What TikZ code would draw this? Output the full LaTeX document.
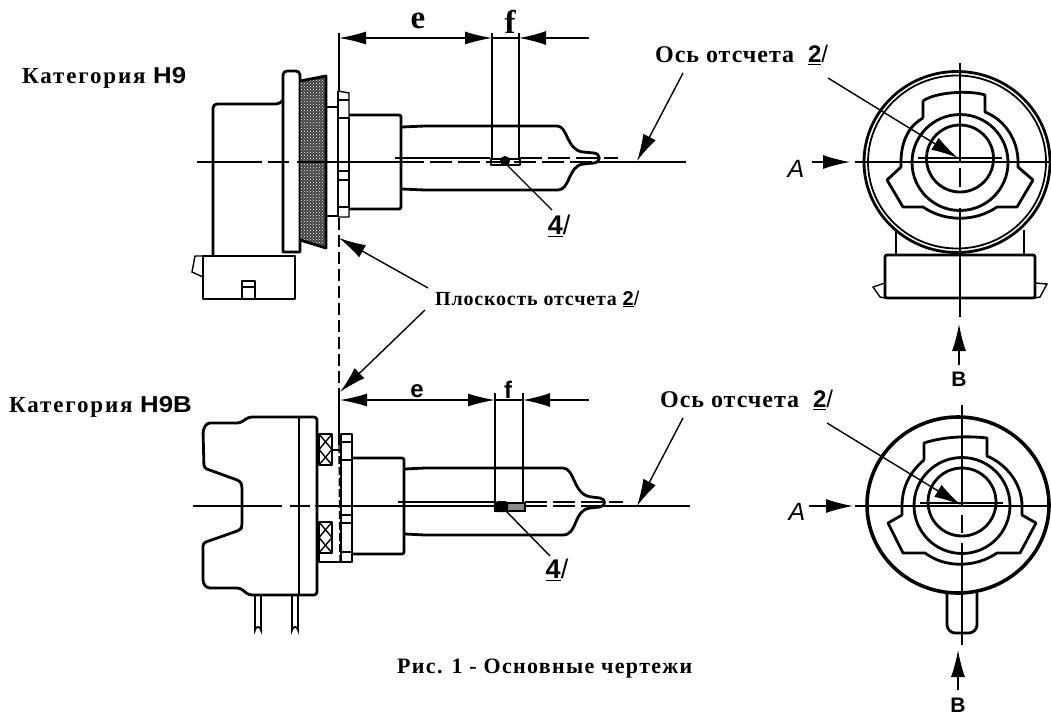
\documentclass[tikz,border=0pt]{standalone}
\usepackage{fontspec}
\setmainfont{Liberation Serif}
\setsansfont{Liberation Sans}
\newfontfamily\widesans[FakeStretch=1.12]{Liberation Sans}
\usepackage{tikz}
\usetikzlibrary{arrows.meta, patterns}

\tikzset{
  thick line/.style={line width=2.8pt, line join=round},
  thin line/.style={line width=1.4pt},
  pin line/.style={line width=1.9pt},
  dim line/.style={line width=1.4pt, {Latex[length=27pt,width=13pt]}-{Latex[length=27pt,width=13pt]}},
  one head/.style={line width=1.4pt, -{Latex[length=27pt,width=14pt]}},
  cap text/.style={font=\fontsize{23}{26}\selectfont\bfseries, anchor=west, inner sep=0pt},
  dim text/.style={font=\fontsize{33}{36}\selectfont\bfseries, inner sep=0pt},
  sans text/.style={font=\fontsize{24}{26}\selectfont\sffamily\bfseries, inner sep=0pt},
  ref text/.style={font=\fontsize{27}{30}\selectfont\sffamily\bfseries, inner sep=0pt},
  view text/.style={font=\fontsize{25}{27}\selectfont\sffamily\itshape, inner sep=0pt},
  back text/.style={font=\fontsize{21}{23}\selectfont\sffamily\bfseries, inner sep=0pt}
}

\begin{document}
\begin{tikzpicture}[x=1pt, y=-1pt]
  \useasboundingbox (0,0) rectangle (1051,715);
  \fill[white] (0,0) rectangle (1051,715);

% labels
\node[cap text] (catA) at (22,78) {\addfontfeature{LetterSpace=8}Категория {\widesans\fontsize{23}{26}\selectfont\bfseries H9}};
\node[cap text] (catB) at (9,407) {\addfontfeature{LetterSpace=8}Категория {\widesans\fontsize{23}{26}\selectfont\bfseries H9B}};
\node[cap text, font=\fontsize{24}{26}\selectfont\bfseries] (axisA) at (655,55) {\addfontfeature{LetterSpace=4}Ось отсчета\hspace{14pt}\underline{\textsf{2}}\textsf{\mdseries /}};
\node[cap text, font=\fontsize{24}{26}\selectfont\bfseries] (axisB) at (660,400) {\addfontfeature{LetterSpace=4}Ось отсчета\hspace{14pt}\underline{\textsf{2}}\textsf{\mdseries /}};
\node[cap text, font=\fontsize{20}{22}\selectfont\bfseries] (plane) at (435,299) {\addfontfeature{LetterSpace=4}Плоскость отсчета \underline{\textsf{2}}\textsf{\mdseries /}};
\node[cap text, font=\fontsize{22}{24}\selectfont\bfseries] (caption) at (397,669) {\addfontfeature{LetterSpace=6}Рис. 1 - Основные чертежи};
\node[dim text] (eA) at (418,21) {e};
\node[dim text] (fA) at (510,22) {f};
\node[sans text] (eB) at (417,391) {e};
\node[sans text] (fB) at (508,390) {f};
\node[ref text] (fourA) at (559,226) {\underline{4}\textsf{\mdseries /}};
\node[ref text] (fourB) at (557,570) {\underline{4}\textsf{\mdseries /}};
\node[view text] (viewA) at (796,169) {A};
\node[view text] (viewB) at (797,512) {A};
\node[back text] (backA) at (959,379) {B};
\node[back text] (backB) at (958,705) {B};

% category H9, side view
\draw[thick line] (213,255) -- (213,110) [rounded corners=4pt] -- (213,104) -- (280,104) [sharp corners] -- (283,100);
\draw[thick line] (283,252) -- (283,78) [rounded corners=4pt] -- (283,71) -- (300,71) [sharp corners] -- (300,252) -- cycle;
\fill[black!75] (300,81) -- (326,76) -- (326,248) -- (300,240) -- cycle;
\fill[pattern=crosshatch dots, pattern color=white] (301,82) -- (325,77) -- (325,247) -- (301,239) -- cycle;
\draw[thick line] (300,81) -- (326,76) -- (326,248) -- (300,240);
\draw[thick line] (326,107) -- (338,107);
\draw[thin line] (326,216) -- (338,216);
\draw[thick line] (338,91) -- (338,217);
\draw[thin line] (338,91) -- (349,93) -- (349,217) -- (338,217);
\draw[thin line] (338,100) -- (349,100);
\draw[thick line] (338,118) -- (349,118) -- (349,207);
\draw[thin line] (338,171) -- (349,171);
\draw[thin line] (338,180) -- (349,180);
\draw[thin line] (338,207) -- (349,207);
\draw[thick line, rounded corners=2pt] (349,115) -- (401,115) -- (401,209) -- (349,209);
\draw[thick line] (402,127) -- (425,126) -- (557,126) .. controls (568,126) and (566,150) .. (583,152) -- (594,153) .. controls (601,154) and (601,162) .. (594,163) -- (583,164) .. controls (568,166) and (570,190) .. (558,190) -- (425,190) -- (402,189);
\draw[thick line] (203,256) -- (295,256) -- (295,299) -- (203,299) -- cycle;
\draw[thin line] (203,256) -- (195,256) -- (192,272) -- (203,277);
\draw[thick line] (242,299) -- (242,281) -- (255,281) -- (255,299);
\draw[thin line] (242,287) -- (255,287);

% axis of H9
\draw[thin line] (197,162) -- (262,162);
\draw[thin line] (268,162) -- (289,162);
\draw[thin line] (297,162) -- (402,162);
\draw[thin line, dash pattern=on 22pt off 6pt] (402,162) -- (600,162);
\draw[thin line] (600,162) -- (686,162);
\draw[thin line] (395,158) -- (490,158);
\draw[thin line, dash pattern=on 22pt off 6pt] (520,158) -- (618,158);

% filament H9
\draw[thick line] (491,159) rectangle (520,165);
\fill[black] (505,161) circle (5);
\coordinate (filA) at (505,163);
\coordinate (filAend) at (552,210);
\draw[thin line] (filA) -- (filAend);

% dimensions H9
\coordinate (zeroA) at (339,38);
\coordinate (eendA) at (492,38);
\coordinate (fendA) at (519,38);
\coordinate (fstopA) at (589,38);
\draw[thin line] (339,33) -- (339,91);
\draw[thin line] (492,33) -- (492,160);
\draw[thin line] (519,33) -- (519,160);
\draw[dim line] (zeroA) -- (eendA);
\draw[one head] (fstopA) -- (fendA);
\draw[thin line] (492,38) -- (519,38);

% plane line and leaders
\draw[thin line, dash pattern=on 12pt off 5pt] (339,218) -- (339,392);
\draw[thin line] (339,392) -- (339,445);
\draw[thin line, dash pattern=on 8pt off 3pt] (339,445) -- (340,562);
\coordinate (planeA) at (339,238);
\coordinate (planeB) at (340,392);
\coordinate (planestartA) at (428,288);
\coordinate (planestartB) at (425,310);
\draw[one head] (planestartA) -- (planeA);
\draw[one head] (planestartB) -- (planeB);

% category H9B, side view
\draw[thick line, rounded corners=3pt] (240,423) -- (249,417) -- (317,417) -- (317,595) -- (249,595) -- (240,588) -- (207,588) -- (203,583) -- (203,543) -- (240,530) -- (242,527) -- (242,485) -- (240,481) -- (204,468) -- (203,430) -- (207,423) -- cycle;
\draw[thick line] (299,417) -- (299,595);
\draw[thick line] (319,434) rectangle (332,465);
\draw[thin line] (319,434) -- (332,449.5) -- (319,465);
\draw[thin line] (332,434) -- (319,449.5) -- (332,465);
\draw[thick line] (319,522) rectangle (332,553);
\draw[thin line] (319,522) -- (332,537.5) -- (319,553);
\draw[thin line] (332,522) -- (319,537.5) -- (332,553);
\draw[thick line] (332,450) -- (341,450);
\draw[thin line] (319,553) -- (319,562) -- (341,562);
\draw[thick line] (341,434) rectangle (352,562);
\draw[thin line] (341,442) -- (352,442);
\draw[thick line] (341,460) -- (352,460);
\draw[thin line] (341,515) -- (352,515);
\draw[thin line] (341,523) -- (352,523);
\draw[thick line] (341,552) -- (352,552);
\draw[thick line, rounded corners=2pt] (352,458) -- (404,458) -- (404,554) -- (352,554);
\draw[thick line] (405,469) -- (425,468) -- (563,468) .. controls (575,468) and (573,496) .. (592,497) -- (600,498) .. controls (606,499) and (606,506) .. (600,507) -- (590,508) .. controls (573,510) and (578,535) .. (563,535) -- (425,535) -- (405,534);
\draw[pin line] (255,595) -- (255,630) arc[start angle=180, end angle=360, radius=3] -- (261,595);
\draw[pin line] (292,595) -- (292,630) arc[start angle=180, end angle=360, radius=3] -- (298,595);

% axis of H9B
\draw[thin line] (193,506) -- (282,506);
\draw[thin line] (290,506) -- (310,506);
\draw[thin line] (315,506) -- (495,506);
\draw[thin line, dash pattern=on 22pt off 6pt] (525,506) -- (600,506);
\draw[thin line] (600,506) -- (690,506);
\draw[thin line] (398,502) -- (495,502);
\draw[thin line, dash pattern=on 22pt off 6pt] (525,502) -- (623,502);

% filament H9B
\draw[thin line, fill=black!45] (495,503) rectangle (525,511);
\fill[black, rounded corners=3pt] (495,501) rectangle (508,512);
\coordinate (filB) at (505,510);
\coordinate (filBend) at (550,556);
\draw[thin line] (filB) -- (filBend);

% dimensions H9B
\coordinate (zeroB) at (340,400);
\coordinate (eendB) at (495,400);
\coordinate (fendB) at (523,400);
\coordinate (fstopB) at (589,400);
\draw[thin line] (495,393) -- (495,503);
\draw[thin line] (523,393) -- (523,503);
\draw[dim line] (zeroB) -- (eendB);
\draw[one head] (fstopB) -- (fendB);
\draw[thin line] (495,400) -- (523,400);

% axis leaders
\coordinate (axisstartA) at (683,73);
\coordinate (axistipA) at (637,161);
\coordinate (axisstartB) at (683,418);
\coordinate (axistipB) at (637,506);
\draw[one head] (axisstartA) -- (axistipA);
\draw[one head] (axisstartB) -- (axistipB);

% category H9, end view
\draw[line width=2.8pt] (957,162) ellipse (93 and 90.5);
\draw[line width=1.8pt] (957,162) ellipse (89 and 86.5);
\draw[thick line] (960,158.5) circle (33.5);
\draw[thick line] (960,162.5) circle (48);
\draw[thick line] (923,118) -- (923,101) .. controls (935,92) and (970,90) .. (985,95) -- (985,112) .. controls (1005,120) and (1018,140) .. (1018,162) -- (1018,167) -- (1033,180) -- (1017,207) -- (997,207) .. controls (975,222) and (945,222) .. (923,207) -- (903,207) -- (887,180) -- (901,167) -- (901,162) .. controls (901,140) and (910,125) .. (923,118);
\draw[thick line] (896,230) -- (896,255);
\draw[thick line] (1024,230) -- (1024,255);
\draw[thick line, rounded corners=2pt] (885,298) -- (885,255) -- (1035,255) -- (1035,298) -- cycle;
\draw[thin line] (885,283) -- (873,287) -- (880,297) -- (885,298);
\draw[thin line] (1035,283) -- (1047,284) -- (1040,297) -- (1035,298);
\draw[thin line] (855,162) -- (1051,162);
\draw[thin line] (960,63) -- (960,163);
\draw[thin line] (960,168) -- (960,187);
\draw[thin line] (960,208) -- (960,317);
\draw[thin line] (918,158) -- (1002,158);
\coordinate (arrowstartA) at (812,162);
\coordinate (arrowtipA) at (850,162);
\coordinate (backstartA) at (959,365);
\coordinate (backtipA) at (959,324);
\coordinate (viewstartA) at (828,78);
\coordinate (viewtipA) at (958,158);
\draw[one head] (arrowstartA) -- (arrowtipA);
\draw[one head] (backstartA) -- (backtipA);
\draw[one head] (viewstartA) -- (viewtipA);

% category H9B, end view
\draw[line width=3.6pt] (958,505) ellipse (91 and 88);
\draw[thick line] (962,502) circle (34);
\draw[thick line] (962,505.5) circle (48);
\draw[thick line] (924,460) -- (924,443) .. controls (945,436) and (970,436) .. (987,438) -- (987,456) .. controls (1008,465) and (1022,485) .. (1022,506) -- (1022,515) -- (1036,523) -- (1020,553) -- (997,553) .. controls (975,568) and (945,568) .. (925,553) -- (903,553) -- (888,523) -- (902,515) -- (902,506) .. controls (902,485) and (912,470) .. (924,460);
\draw[thick line, rounded corners=3pt] (947,593) -- (947,628) -- (952,633) -- (972,633) -- (977,628) -- (977,593);
\draw[thin line] (855,506) -- (1051,506);
\draw[thin line] (962,405) -- (962,507);
\draw[thin line] (962,515) -- (962,533);
\draw[thin line] (962,543) -- (962,645);
\draw[thin line] (920,503) -- (1003,503);
\coordinate (arrowstartB) at (809,506);
\coordinate (arrowtipB) at (853,506);
\coordinate (backstartB) at (958,690);
\coordinate (backtipB) at (958,650);
\coordinate (viewstartB) at (827,423);
\coordinate (viewtipB) at (961,505);
\draw[one head] (arrowstartB) -- (arrowtipB);
\draw[one head] (backstartB) -- (backtipB);
\draw[one head] (viewstartB) -- (viewtipB);

\end{tikzpicture}
\end{document}
